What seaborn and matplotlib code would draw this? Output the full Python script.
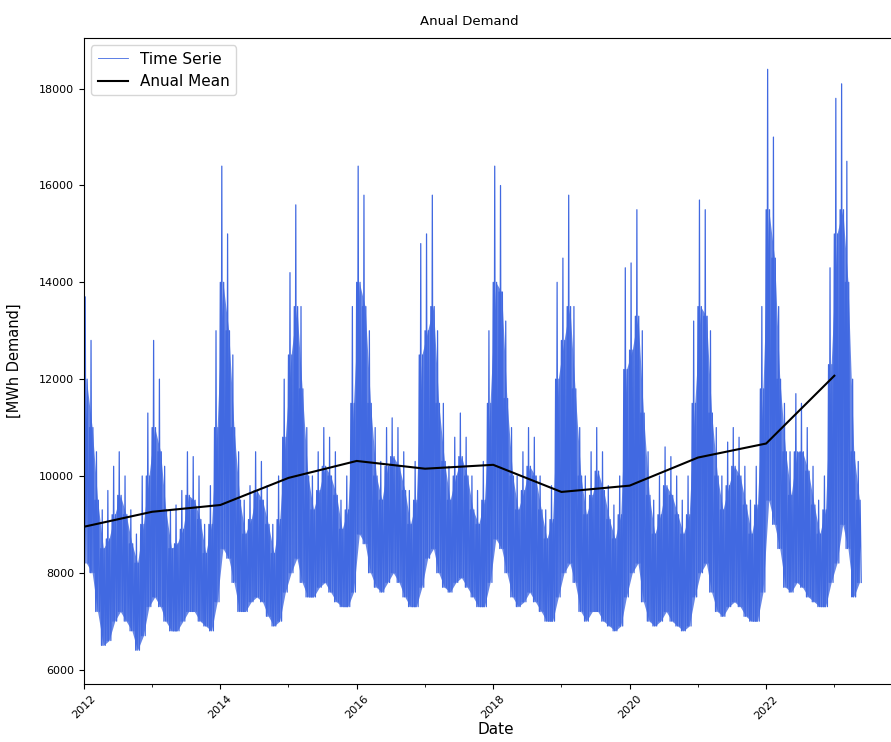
import numpy as np
import pandas as pd
import matplotlib
matplotlib.use("Agg")
import matplotlib.pyplot as plt
import matplotlib.dates as mdates
import seaborn as sns

# monthly envelope of the demand series (MWh)
years = list(range(2012, 2024))
month_high = [
    13700, 12800, 10500, 9300, 9700, 10200, 10500, 10000, 9300, 8800, 10000, 11300,   # 2012
    12800, 12000, 10200, 9300, 9400, 9700, 10500, 10400, 10000, 9000, 9800, 13000,    # 2013
    16400, 15000, 12500, 10500, 9500, 9800, 10500, 10300, 9800, 9000, 10000, 12000,   # 2014
    14200, 15600, 13500, 11000, 10000, 10500, 11000, 10800, 10500, 9500, 10000, 13500, # 2015
    16400, 15800, 13000, 11000, 10300, 11000, 11200, 11000, 10500, 9700, 10300, 14800, # 2016
    15000, 15800, 13000, 11500, 10200, 10800, 11300, 10800, 10000, 9700, 10300, 13000, # 2017
    16400, 16000, 13200, 11000, 10000, 10500, 11000, 10800, 10000, 9300, 9800, 14000,  # 2018
    14500, 15800, 13500, 11000, 10000, 10500, 11000, 10500, 9800, 9400, 10000, 14300,  # 2019
    14400, 15500, 13000, 10500, 9500, 10000, 10600, 10400, 10000, 9500, 10000, 13200,  # 2020
    15700, 15500, 13000, 11000, 10000, 10700, 11000, 10800, 10200, 9500, 10200, 13500, # 2021
    18400, 17000, 13500, 11500, 10500, 11700, 11500, 11000, 10200, 9500, 10000, 14300, # 2022
    17800, 18100, 16500, 12000, 10300,                                                 # 2023
]
# upper edge of the dense part of the series
month_core = [
    12000, 11000, 9500, 8500, 8700, 9200, 9600, 9200, 8600, 8200, 9000, 10000,
    11000, 10500, 9300, 8500, 8600, 8900, 9600, 9500, 9100, 8400, 9000, 11000,
    14000, 13000, 11000, 9500, 8800, 9100, 9700, 9500, 9000, 8400, 9100, 10800,
    12500, 13500, 11800, 10000, 9300, 9700, 10200, 10000, 9600, 8900, 9300, 11500,
    14000, 13500, 11500, 10000, 9500, 10200, 10400, 10200, 9700, 9000, 9500, 12500,
    13000, 13500, 11500, 10300, 9500, 10000, 10400, 10000, 9300, 9000, 9500, 11500,
    14000, 13800, 11600, 10000, 9300, 9700, 10200, 10000, 9300, 8700, 9100, 12000,
    12800, 13500, 11800, 10000, 9200, 9600, 10100, 9700, 9100, 8700, 9200, 12200,
    12600, 13300, 11300, 9600, 8800, 9200, 9800, 9600, 9200, 8800, 9200, 11500,
    13500, 13300, 11300, 10000, 9300, 9800, 10200, 10000, 9400, 8800, 9400, 11800,
    15500, 14500, 12000, 10500, 9600, 10500, 10500, 10100, 9400, 8800, 9300, 12300,
    15000, 15500, 14000, 10500, 9500,
]
month_low = [
    8200, 8000, 7200, 6500, 6600, 7000, 7200, 7000, 6800, 6400, 6700, 7300,
    7500, 7300, 7000, 6800, 6800, 7000, 7200, 7200, 7000, 6900, 6800, 7400,
    8500, 8300, 7800, 7200, 7200, 7400, 7500, 7400, 7100, 6900, 7000, 7600,
    8000, 8300, 7800, 7500, 7500, 7700, 7800, 7600, 7400, 7300, 7300, 7600,
    8800, 8600, 8000, 7700, 7600, 7800, 8000, 7800, 7500, 7300, 7300, 7700,
    8300, 8500, 8000, 7700, 7600, 7800, 7900, 7700, 7500, 7300, 7300, 7800,
    8700, 8500, 8000, 7500, 7300, 7400, 7600, 7400, 7200, 7000, 7000, 7500,
    8000, 8200, 7800, 7200, 7000, 7200, 7200, 7000, 6900, 6800, 6900, 7500,
    8000, 8200, 7400, 7000, 6900, 7000, 7200, 7000, 6900, 6800, 6900, 7500,
    8000, 8200, 7600, 7200, 7100, 7300, 7400, 7300, 7100, 7000, 7000, 7600,
    9500, 9000, 8500, 7700, 7600, 7800, 7700, 7500, 7400, 7300, 7300, 7800,
    8200, 9000, 8500, 7500, 7800,
]
annual_mean = [8950, 9260, 9400, 9960, 10310, 10150, 10230, 9670, 9800, 10380, 10670, 12070]
label_years = [2012, 2014, 2016, 2018, 2020, 2022]

months = pd.date_range("2012-01-01", periods=len(month_high), freq="MS")
rows = []
for m, hi, co, lo in zip(months, month_high, month_core, month_low):
    for day, val in [(0, co), (4, lo), (8, hi), (12, lo), (18, co), (24, lo)]:
        rows.append((m + pd.Timedelta(days=day), val))
demand = pd.DataFrame(rows, columns=["Date", "Demand"])
means = pd.DataFrame({"Date": pd.to_datetime([f"{y}-01-01" for y in years]),
                      "Demand": annual_mean})

fig = plt.figure(figsize=(8.91, 7.42), dpi=100)
# the original figure is cut at the right, so the axes run past the edge
ax = fig.add_axes([0.094, 0.078, 0.925, 0.871])

band_x = months + pd.Timedelta(days=14)
ax.fill_between(band_x, month_low, month_core, color="royalblue", alpha=0.8,
                linewidth=0)
sns.lineplot(data=demand, x="Date", y="Demand", color="royalblue", linewidth=0.9,
             label="Time Serie", ax=ax)
sns.lineplot(data=means, x="Date", y="Demand", color="black", linewidth=1.5,
             label="Anual Mean", ax=ax)

ax.set_xlim(pd.Timestamp("2012-01-01"), pd.Timestamp("2024-01-30"))
ax.set_ylim(5700, 19050)
ax.set_yticks(range(6000, 18001, 2000))
ax.set_xticks(pd.to_datetime([f"{y}-01-01" for y in label_years]))
ax.set_xticks(pd.to_datetime([f"{y}-01-01" for y in years if y not in label_years]),
              minor=True)
ax.xaxis.set_major_formatter(mdates.DateFormatter("%Y"))
ax.tick_params(axis="both", labelsize=8)
plt.setp(ax.get_xticklabels(), rotation=45)

ax.set_title("Anual Demand", fontsize=9.5, pad=9, x=0.468)
ax.set_xlabel("Date", fontsize=11, labelpad=1)
ax.set_ylabel("[MWh Demand]", fontsize=10.5, labelpad=12)
ax.legend(loc="upper left", fontsize=11)
ax.get_legend().get_lines()[0].set_linewidth(0.6)

fig.savefig("out.png", dpi=100)
